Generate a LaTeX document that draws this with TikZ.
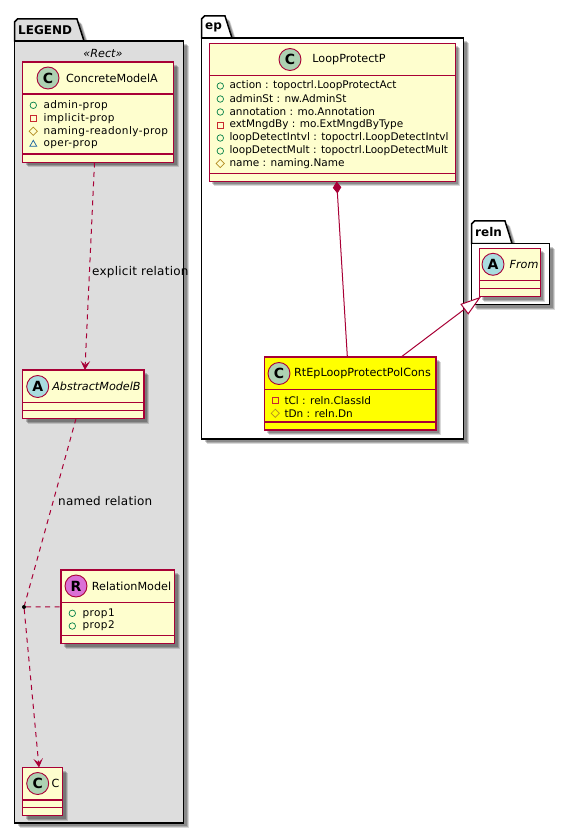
\documentclass[tikz,border=0pt]{standalone}
\usepackage{fontspec}
\setmainfont{DejaVu Sans}
\usepackage{xcolor}
\usetikzlibrary{positioning,arrows.meta,shapes.geometric,shadows}

\definecolor{umlred}{HTML}{A80036}
\definecolor{umlcream}{HTML}{FEFECE}
\definecolor{umlgrey}{HTML}{DDDDDD}
\definecolor{umlyellow}{HTML}{FFFF00}
\definecolor{spotC}{HTML}{ADD1B2}
\definecolor{spotA}{HTML}{A9DCDF}
\definecolor{spotR}{HTML}{DA70D6}
\definecolor{pubcol}{HTML}{038048}
\definecolor{privcol}{HTML}{C82930}
\definecolor{protcol}{HTML}{B38D22}
\definecolor{pkgcol}{HTML}{1963A0}

\tikzset{
  softshadow/.style={
    general shadow={shadow xshift=3pt,shadow yshift=-3pt,fill=black,opacity=0.2},
    general shadow={shadow xshift=4pt,shadow yshift=-4pt,fill=black,opacity=0.2},
    general shadow={shadow xshift=5pt,shadow yshift=-5pt,fill=black,opacity=0.15}
  }
}

\begin{document}
\begin{tikzpicture}[
  x=1pt, y=-1pt,
  classbox/.style={draw=umlred, fill=#1, line width=1.2pt, inner sep=0pt, outer sep=0pt,
    anchor=north west, softshadow},
  classbox/.default=umlcream,
  sepline/.style={draw=umlred, line width=1.2pt},
  pkgbox/.style={draw=black, fill=#1, line width=1.5pt, inner sep=0pt, outer sep=0pt,
    anchor=north west, softshadow},
  pkgtab/.style={draw=black, fill=#1, line width=1.5pt, softshadow},
  spot/.style={draw=umlred, circle, fill=#1, line width=0.9pt, minimum size=22pt, inner sep=0pt,
    font=\bfseries\fontsize{14}{14}\selectfont},
  title/.style={font=\fontsize{11.2}{13}\selectfont, inner sep=0pt},
  ititle/.style={font=\itshape\fontsize{11.2}{13}\selectfont, inner sep=0pt},
  pkgname/.style={font=\bfseries\fontsize{12}{14}\selectfont, inner sep=0pt, anchor=west},
  member/.style={font=\fontsize{10.5}{12}\selectfont, inner sep=0pt, anchor=west},
  widemember/.style={member, font=\fontsize{10.5}{12}\selectfont\addfontfeature{LetterSpace=4}},
  rellabel/.style={font=\fontsize{12}{14}\selectfont\addfontfeature{LetterSpace=2}, inner sep=0pt, anchor=west},
  pub/.style={draw=pubcol, circle, line width=0.7pt, minimum size=6.5pt, inner sep=0pt},
  priv/.style={draw=privcol, rectangle, line width=0.7pt, minimum size=6pt, inner sep=0pt},
  prot/.style={draw=protcol, diamond, line width=0.7pt, minimum size=8.5pt, inner sep=0pt},
  pack/.style={draw=pkgcol, regular polygon, regular polygon sides=3, line width=0.7pt,
    minimum size=8pt, inner sep=0pt},
  rel/.style={draw=umlred, line width=1pt},
  dep/.style={rel, dash pattern=on 5pt off 4.5pt, -{Stealth[length=9pt,width=9.5pt,inset=4pt]}},
  assoc/.style={rel, dash pattern=on 5pt off 4.5pt},
  dot/.style={circle, fill=black, minimum size=4pt, inner sep=0pt}
]
  \useasboundingbox (0,0) rectangle (570,834);

  % LEGEND package
  \draw[pkgtab=umlgrey] (14.5,41) -- (14.5,22) -- ++(3,-3) -- (77,19) -- (84,41) -- cycle;
  \node[pkgbox=umlgrey, minimum width=169pt, minimum height=782pt] (legend) at (14.5,41) {};
  \node[pkgname] (legendname) at (18,30) {LEGEND};
  \node[ititle] (rectname) at (103,53) {«Rect»};

  % ep package
  \draw[pkgtab=white] (201.5,38) -- (201.5,19) -- ++(3,-3) -- (225,16) -- (232,38) -- cycle;
  \node[pkgbox=white, minimum width=262pt, minimum height=401pt] (ep) at (201.5,38) {};
  \node[pkgname] (epname) at (205,27) {ep};

  % reln package
  \draw[pkgtab=white] (471.5,243.5) -- (471.5,224) -- ++(3,-3) -- (505,221) -- (512,243.5) -- cycle;
  \node[pkgbox=white, minimum width=78pt, minimum height=61pt] (relnpkg) at (471.5,243.5) {};
  \node[pkgname] (relnname) at (475,232.5) {reln};

  % classes
  \node[classbox, minimum width=151pt, minimum height=100.5pt] (concrete) at (22.5,62) {};
  \draw[sepline] (concrete.west |- 0,94) -- (concrete.east |- 0,94);
  \draw[sepline] (concrete.west |- 0,154) -- (concrete.east |- 0,154);
  \node[spot=spotC] (concretespot) at (48,78) {C};
  \node[title] (concretename) at (112,78) {ConcreteModelA};

  \node[classbox, minimum width=121.5pt, minimum height=48.5pt] (abstract) at (22.5,370) {};
  \draw[sepline] (abstract.west |- 0,402.5) -- (abstract.east |- 0,402.5);
  \draw[sepline] (abstract.west |- 0,410.5) -- (abstract.east |- 0,410.5);
  \node[spot=spotA] (abstractspot) at (37.7,386.5) {A};
  \node[ititle] (abstractname) at (96.5,386.5) {AbstractModelB};

  \node[classbox, minimum width=113.5pt, minimum height=73.5pt] (relation) at (61,570) {};
  \draw[sepline] (relation.west |- 0,602.5) -- (relation.east |- 0,602.5);
  \draw[sepline] (relation.west |- 0,635.5) -- (relation.east |- 0,635.5);
  \node[spot=spotR] (relationspot) at (76,586) {R};
  \node[title] (relationname) at (131.5,586) {RelationModel};

  \node[classbox, minimum width=40pt, minimum height=48pt] (cmodel) at (22.5,767.5) {};
  \draw[sepline] (cmodel.west |- 0,800) -- (cmodel.east |- 0,800);
  \draw[sepline] (cmodel.west |- 0,807.5) -- (cmodel.east |- 0,807.5);
  \node[spot=spotC] (cspot) at (37.7,783.5) {C};
  \node[title] (cname) at (55.5,783.5) {C};

  \node[classbox, minimum width=246pt, minimum height=138pt] (loopprotect) at (209.3,43.5) {};
  \draw[sepline] (loopprotect.west |- 0,75.5) -- (loopprotect.east |- 0,75.5);
  \draw[sepline] (loopprotect.west |- 0,173.5) -- (loopprotect.east |- 0,173.5);
  \node[spot=spotC] (loopspot) at (290,59.5) {C};
  \node[title] (loopname) at (349,59.5) {LoopProtectP};

  \node[classbox=umlyellow, minimum width=171.7pt, minimum height=73pt] (rtep) at (264.3,357) {};
  \draw[sepline] (rtep.west |- 0,389.3) -- (rtep.east |- 0,389.3);
  \draw[sepline] (rtep.west |- 0,422) -- (rtep.east |- 0,422);
  \node[spot=spotC] (rtepspot) at (279,373.5) {C};
  \node[title] (rtepname) at (362.5,373.5) {RtEpLoopProtectPolCons};

  \node[classbox, minimum width=61pt, minimum height=48.4pt] (from) at (479.3,248.3) {};
  \draw[sepline] (from.west |- 0,280.7) -- (from.east |- 0,280.7);
  \draw[sepline] (from.west |- 0,288.3) -- (from.east |- 0,288.3);
  \node[spot=spotA] (fromspot) at (493,264.3) {A};
  \node[ititle] (fromname) at (524,264.3) {From};

  % members
  \foreach \kind/\ypos/\txt in {pub/105.3/admin-prop, priv/118.3/implicit-prop,
      prot/131.3/naming-readonly-prop, pack/144.3/oper-prop} {
    \node[\kind] (concreteicon\ypos) at (33.3,\ypos) {};
    \node[widemember] (concretetxt\ypos) at (43.3,\ypos) {\txt};
  }
  \foreach \kind/\ypos/\txt in {pub/86/action : topoctrl.LoopProtectAct,
      pub/99/adminSt : nw.AdminSt, pub/112/annotation : mo.Annotation,
      priv/125/extMngdBy : mo.ExtMngdByType, pub/138/loopDetectIntvl : topoctrl.LoopDetectIntvl,
      pub/151/loopDetectMult : topoctrl.LoopDetectMult, prot/163.5/name : naming.Name} {
    \node[\kind] (loopicon\ypos) at (220.3,\ypos) {};
    \node[member] (looptxt\ypos) at (229.3,\ypos) {\txt};
  }
  \foreach \kind/\ypos/\txt in {priv/400.3/tCl : reln.ClassId, prot/413.3/tDn : reln.Dn} {
    \node[\kind] (rtepicon\ypos) at (275.3,\ypos) {};
    \node[member] (reptxt\ypos) at (284.3,\ypos) {\txt};
  }
  \foreach \kind/\ypos/\txt in {pub/613.3/prop1, pub/626/prop2} {
    \node[\kind] (relicon\ypos) at (72.3,\ypos) {};
    \node[widemember] (reltxt\ypos) at (82.3,\ypos) {\txt};
  }

  % connectors
  \node[dot] (junction) at (24,607) {};
  \draw[dep] ([xshift=-3.5pt]concrete.south) -- ([xshift=1.7pt]abstract.north);
  \draw[assoc] ([xshift=-7.2pt]abstract.south) -- (junction);
  \draw[dep] (junction) -- ([xshift=-3.5pt]cmodel.north);
  \draw[assoc] (junction) -- (relation.west);
  \node[rellabel] (explicitlabel) at (92,272) {explicit relation};
  \node[rellabel] (namedlabel) at (58,501.5) {named relation};

  \draw[rel, {Diamond[length=12pt,width=8.5pt,fill=umlred]}-] ([xshift=4.4pt]loopprotect.south) -- ([xshift=-2.8pt]rtep.north);
  \draw[rel, {Triangle[open,length=21pt,width=13pt,fill=white]}-] ([xshift=1.7pt]from.south west) -- ([xshift=51pt]rtep.north);
\end{tikzpicture}
\end{document}
